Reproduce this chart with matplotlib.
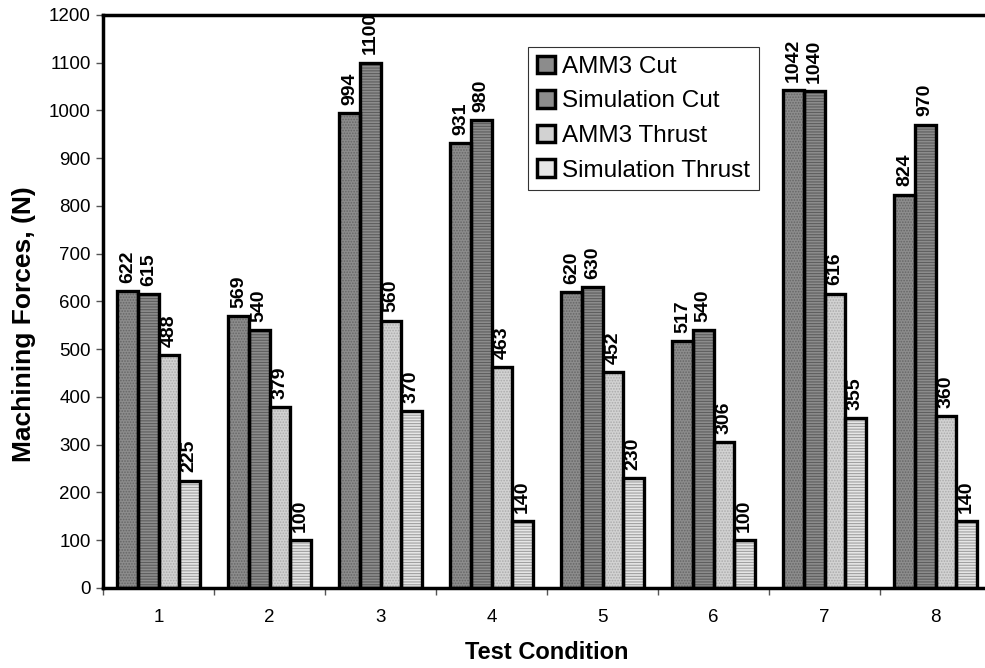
import numpy as np
import matplotlib.pyplot as plt
from matplotlib.patches import Patch

plt.rcParams['font.family'] = ['Liberation Sans', 'DejaVu Sans']
plt.rcParams['hatch.linewidth'] = 0.8

conditions = [1, 2, 3, 4, 5, 6, 7, 8]
amm3_cut = [622, 569, 994, 931, 620, 517, 1042, 824]
sim_cut = [615, 540, 1100, 980, 630, 540, 1040, 970]
amm3_thrust = [488, 379, 560, 463, 452, 306, 616, 360]
sim_thrust = [225, 100, 370, 140, 230, 100, 355, 140]

series = [
    ("AMM3 Cut", amm3_cut, '#8c8c8c', '#666666', '......'),
    ("Simulation Cut", sim_cut, '#8c8c8c', '#5e5e5e', '------'),
    ("AMM3 Thrust", amm3_thrust, '#d2d2d2', '#ababab', '......'),
    ("Simulation Thrust", sim_thrust, '#e6e6e6', '#a0a0a0', '------'),
]

fig = plt.figure(figsize=(9.85, 6.68), dpi=100)
# plot area runs a little past the right edge of the picture, as in the original
ax = fig.add_axes([0.1046, 0.1198, 0.9015, 0.8578])

x = np.array(conditions, dtype=float)
w = 0.185
handles = []
for k, (name, vals, fc, hc, hatch) in enumerate(series):
    pos = x + (k - 1.5) * w
    ax.bar(pos, vals, w, color=fc, edgecolor=hc, hatch=hatch, linewidth=0, zorder=2)
    ax.bar(pos, vals, w, fill=False, edgecolor='black', linewidth=2.4, zorder=3)
    for p, v in zip(pos, vals):
        ax.annotate(str(v), (p, v), xytext=(0, 6), textcoords='offset points',
                    rotation=90, ha='center', va='bottom',
                    fontsize=14, fontweight='bold', zorder=4)
    handles.append(Patch(facecolor=fc, edgecolor='black', linewidth=2.5))

ax.set_xlim(0.5, 8.5)
ax.set_ylim(0, 1200)
ax.set_yticks(range(0, 1201, 100))
ax.set_xticks(conditions)
ax.set_xticks(np.arange(0.5, 8.6, 1), minor=True)
ax.tick_params(axis='x', which='major', length=0, pad=15, labelsize=13.5)
ax.tick_params(axis='x', which='minor', length=5, width=1, color='#555555')
ax.tick_params(axis='y', length=5, width=1, color='#555555', labelsize=13.5, pad=4)

for s in ['left', 'bottom', 'top']:
    ax.spines[s].set_linewidth(2.5)
ax.spines['right'].set_visible(False)

ax.set_xlabel("Test Condition", fontsize=17, fontweight='bold', va='center')
ax.xaxis.set_label_coords(0.5, -0.112)
ax.set_ylabel("Machining Forces, (N)", fontsize=19, fontweight='bold', va='center')
ax.yaxis.set_label_coords(-0.089, 0.46)

leg = ax.legend(handles, [s[0] for s in series], loc='upper left',
                bbox_to_anchor=(0.4786, 0.944), fontsize=17.5, frameon=True,
                fancybox=False, edgecolor='black', handlelength=0.75,
                handleheight=0.75, handletextpad=0.3, borderpad=0.35,
                labelspacing=0.5, borderaxespad=0)
leg.get_frame().set_linewidth(0.8)

fig.savefig('out.png', dpi=100)
